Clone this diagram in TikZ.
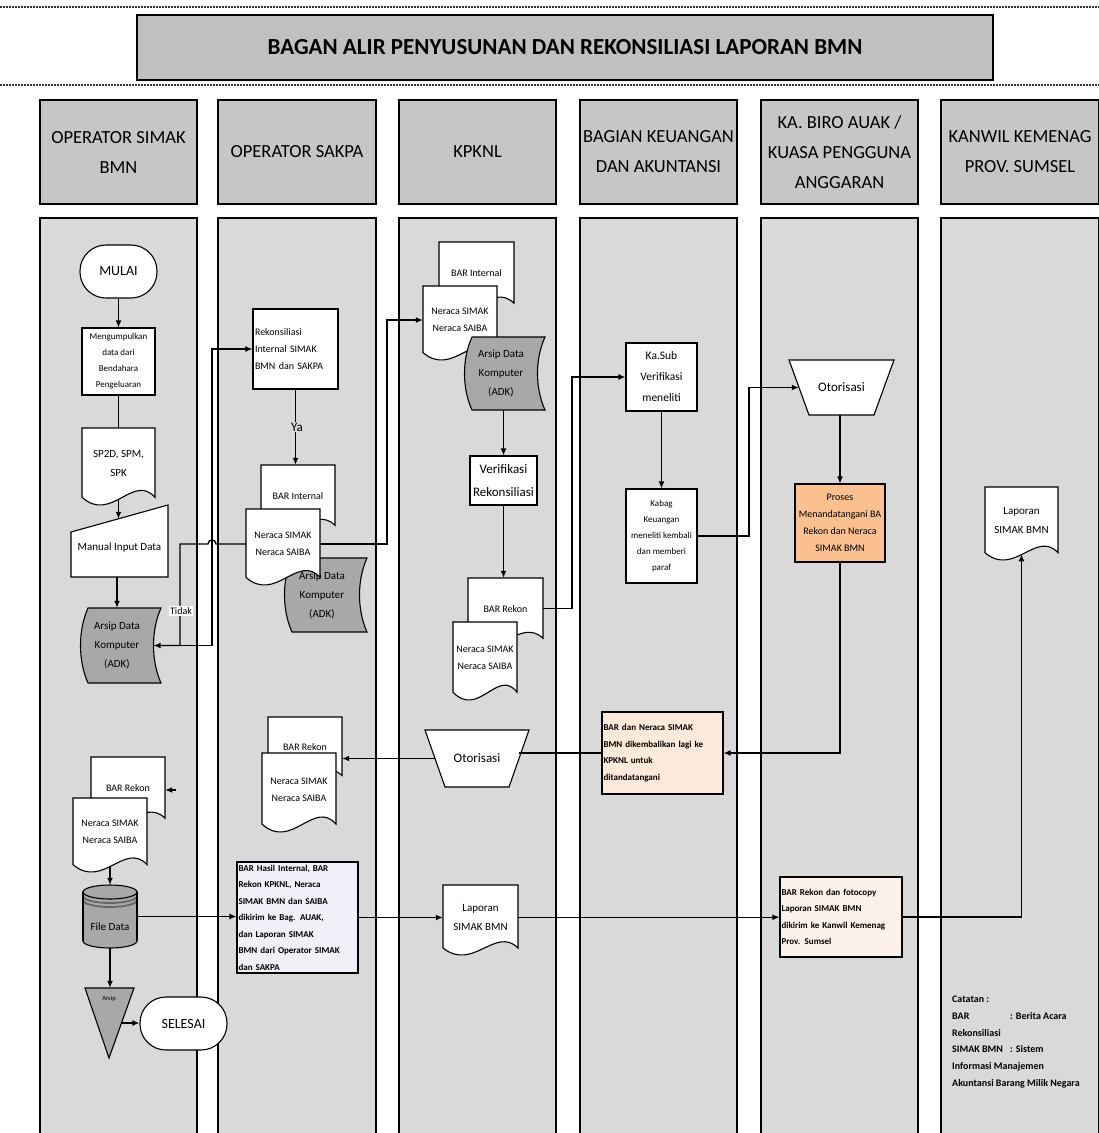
\documentclass[tikz,border=0pt]{standalone}
\usepackage{fontspec}
\setmainfont{Carlito}
\usetikzlibrary{arrows.meta,calc}
\definecolor{lanegray}{HTML}{D9D9D9}
\definecolor{hdrgray}{HTML}{C6C6C6}
\definecolor{titlegray}{HTML}{C0C0C0}
\definecolor{adkgray}{HTML}{A8A8A8}
\definecolor{orangeA}{HTML}{FAC090}
\definecolor{peachA}{HTML}{FDE9D9}
\definecolor{peachB}{HTML}{FDF2EA}
\definecolor{lavA}{HTML}{F0F0F8}
\tikzset{
 lanebox/.style={draw, line width=1.5pt, fill=lanegray},
 hdrbox/.style={draw, line width=1.5pt, fill=hdrgray, align=center, inner sep=0pt, font=\fontsize{18.5}{30}\selectfont},
 shp/.style={draw, line width=1.1pt},
 ghost/.style={inner sep=0pt, align=center},
 procbox/.style={draw, line width=1.1pt, fill=white, inner sep=0pt, align=center},
 conn/.style={line width=1.3pt, -{Latex[length=7pt,width=6pt]}},
 plainline/.style={line width=1.3pt},
 rule/.style={line width=2pt, dash pattern=on 1.5pt off 1.5pt, black!80},
 fS/.style={font=\fontsize{9}{16}\selectfont},
 fM/.style={font=\fontsize{10}{17}\selectfont},
 fL/.style={font=\fontsize{11}{19}\selectfont},
 fXL/.style={font=\fontsize{13}{23}\selectfont},
 fT/.style={font=\fontsize{14}{16}\selectfont},
 fBold/.style={font=\bfseries\fontsize{9}{16.5}\selectfont},
}
% box: name x1 y1 x2 y2 style text
\newcommand\BoxN[7]{\node[#6, minimum width={#4-#2}, minimum height={#5-#3}] (#1) at ({(#2+#4)/2},{(#3+#5)/2}) {#7};}
% document: name x1 y1 x2 y2 fill fontstyle text
\newcommand\DocN[8]{%
 \filldraw[shp, fill=#6] (#2,#3) -- (#4,#3) -- (#4,{#5-0.1*(#5-#3)}) .. controls ({#4-0.3*(#4-#2)},{#5-0.42*(#5-#3)}) and ({#2+0.4*(#4-#2)},{#5+0.24*(#5-#3)}) .. (#2,{#5-0.1*(#5-#3)}) -- cycle;
 \node[ghost, #7, minimum width={#4-#2}, minimum height={0.92*(#5-#3)}] (#1) at ({(#2+#4)/2},{#3+0.46*(#5-#3)}) {#8};}
% stored data: name x1 y1 x2 y2 fontstyle text
\newcommand\SdN[7]{%
 \filldraw[shp, fill=adkgray] (#2,#3) -- (#4,#3) .. controls ({#4-10},{#3+0.3*(#5-#3)}) and ({#4-10},{#5-0.3*(#5-#3)}) .. (#4,#5) -- (#2,#5) .. controls ({#2-10},{#5-0.3*(#5-#3)}) and ({#2-10},{#3+0.3*(#5-#3)}) .. (#2,#3) -- cycle;
 \node[ghost, #6, minimum width={#4-#2}, minimum height={#5-#3}] (#1) at ({(#2+#4)/2-7.5},{(#3+#5)/2}) {#7};}
% manual operation: name x1 y1 x2 y2 inset text
\newcommand\TrapN[7]{%
 \filldraw[shp, fill=white] (#2,#3) -- (#4,#3) -- ({#4-#6},#5) -- ({#2+#6},#5) -- cycle;
 \node[ghost, fXL, minimum width={#4-#2-#6}, minimum height={#5-#3}] (#1) at ({(#2+#4)/2},{(#3+#5)/2}) {#7};}

\begin{document}
\begin{tikzpicture}[x=1pt,y=-1pt]
\useasboundingbox (0,0) rectangle (1099,1133);
\fill[white] (0,0) rectangle (1099,1133);
\begin{scope}
\clip (0,0) rectangle (1099,1133);
% dotted rules
\coordinate (r1a) at (0,7);
\coordinate (r1b) at (1099,7);
\coordinate (r2a) at (0,85);
\coordinate (r2b) at (1099,85);
\draw[rule] (r1a) -- (r1b);
\draw[rule] (r2a) -- (r2b);
% title
\BoxN{title}{137}{15}{993}{80}{draw, line width=1.5pt, fill=titlegray, font=\bfseries\fontsize{23}{26}\selectfont}{BAGAN ALIR PENYUSUNAN DAN REKONSILIASI LAPORAN BMN}
% headers
\BoxN{h1}{40}{100}{197}{204}{hdrbox}{OPERATOR SIMAK\\BMN}
\BoxN{h2}{218}{100}{376}{204}{hdrbox}{OPERATOR SAKPA}
\BoxN{h3}{399}{100}{556}{204}{hdrbox}{KPKNL}
\BoxN{h4}{580}{100}{737}{204}{hdrbox}{BAGIAN KEUANGAN\\DAN AKUNTANSI}
\BoxN{h5}{761}{100}{918}{204}{hdrbox}{KA. BIRO AUAK /\\KUASA PENGGUNA\\ANGGARAN}
\BoxN{h6}{941}{100}{1099}{204}{hdrbox}{KANWIL KEMENAG\\PROV. SUMSEL}
% lanes
\BoxN{l1}{40}{218}{197}{1145}{lanebox}{}
\BoxN{l2}{218}{218}{376}{1145}{lanebox}{}
\BoxN{l3}{399}{218}{556}{1145}{lanebox}{}
\BoxN{l4}{580}{218}{737}{1145}{lanebox}{}
\BoxN{l5}{761}{218}{918}{1145}{lanebox}{}
\BoxN{l6}{941}{218}{1099}{1145}{lanebox}{}

% ---------- lane 1
\BoxN{mulai}{80}{245}{157}{298}{procbox, rounded corners=26pt, fT}{MULAI}
\BoxN{kumpul}{82}{328}{155}{395}{procbox, fS}{Mengumpulkan\\data dari\\Bendahara\\Pengeluaran}
\DocN{sp2d}{82}{428}{155}{505}{white}{fL}{SP2D, SPM,\\SPK}
\filldraw[shp, fill=white] (71,532) -- (168,505) -- (168,577) -- (71,577) -- cycle;
\BoxN{minput}{71}{519}{168}{577}{ghost, fL}{Manual Input Data}
\SdN{adk1}{88}{608}{161}{683}{fL}{Arsip Data\\Komputer\\(ADK)}
\DocN{barr1}{91}{757}{165}{825}{white}{fM}{BAR Rekon}
\DocN{ner1}{73}{798}{147}{872}{white}{fM}{Neraca SIMAK\\Neraca SAIBA}
% file data cylinder
\filldraw[shp, fill=adkgray] (83,892) -- (83,941) arc[start angle=180, end angle=0, x radius=27, y radius=7] -- (137,892) -- cycle;
\filldraw[shp, fill=adkgray] (110,892) ellipse[x radius=27, y radius=7];
\draw[line width=1.8pt, black!60] (83,896) arc[start angle=180, end angle=0, x radius=27, y radius=7];
\draw[line width=1.8pt, black!60] (83,900) arc[start angle=180, end angle=0, x radius=27, y radius=7];
\draw[shp] (83,892) -- (83,941) (137,892) -- (137,941);
\BoxN{fdata}{83}{885}{137}{948}{ghost}{}
\node[fL] (fdataT) at (110,927) {File Data};
% arsip triangle
\filldraw[shp, fill=adkgray] (85,988) -- (134,988) -- (109,1058) -- cycle;
\BoxN{arsip}{97}{988}{121}{1058}{ghost}{}
\node[font=\fontsize{6.5}{7}\selectfont] (arsipT) at (109,999) {Arsip};
\BoxN{selesai}{140}{997}{227}{1050}{procbox, rounded corners=26pt, fT}{SELESAI}

% ---------- lane 2
\BoxN{rekon}{253}{309}{338}{389}{procbox, fM, text width=81pt, align=left}{Rekonsiliasi\\Internal SIMAK\\BMN dan SAKPA}
\DocN{bari2}{261}{465}{335}{532}{white}{fM}{BAR Internal}
\SdN{adk2}{292}{558}{367}{632}{fL}{Arsip Data\\Komputer\\(ADK)}
\DocN{ner2}{246}{509}{320}{585}{white}{fM}{Neraca SIMAK\\Neraca SAIBA}
\DocN{barr2}{268}{717}{342}{782}{white}{fM}{BAR Rekon}
\DocN{ner2b}{262}{753}{336}{832}{white}{fM}{Neraca SIMAK\\Neraca SAIBA}
\BoxN{bhasil}{237}{862}{358}{973}{procbox, fill=lavA, fBold, text width=118pt, align=left}{BAR Hasil Internal, BAR\\Rekon KPKNL, Neraca\\SIMAK BMN dan SAIBA\\dikirim ke Bag. AUAK,\\dan Laporan SIMAK\\BMN dari Operator SIMAK\\dan SAKPA}

% ---------- lane 3
\DocN{bari3}{439}{242}{514}{310}{white}{fM}{BAR Internal}
\DocN{ner3}{423}{286}{497}{360}{white}{fM}{Neraca SIMAK\\Neraca SAIBA}
\SdN{adk3}{472}{337}{545}{410}{fL}{Arsip Data\\Komputer\\(ADK)}
\BoxN{verif}{470}{456}{537}{505}{procbox, fXL}{Verifikasi\\Rekonsiliasi}
\DocN{barr3}{468}{578}{543}{645}{white}{fM}{BAR Rekon}
\DocN{ner3b}{453}{622}{517}{700}{white}{fM}{Neraca SIMAK\\Neraca SAIBA}
\TrapN{oto3}{425}{730}{529}{787}{20}{Otorisasi}
\DocN{lap3}{443}{885}{518}{955}{white}{fL}{Laporan\\SIMAK BMN}

% ---------- lane 4
\BoxN{kasub}{626}{343}{697}{411}{procbox, font=\fontsize{11.5}{21}\selectfont}{Ka.Sub\\Verifikasi\\meneliti}
\BoxN{kabag}{626}{489}{697}{583}{procbox, fS}{Kabag\\Keuangan\\meneliti kembali\\dan memberi\\paraf}
\BoxN{barnk}{602}{712}{723}{794}{procbox, fill=peachA, fBold, text width=118pt, align=left}{BAR dan Neraca SIMAK\\BMN dikembalikan lagi ke\\KPKNL untuk\\ditandatangani}

% ---------- lane 5
\TrapN{oto5}{789}{360}{894}{415}{20}{Otorisasi}
\BoxN{proses}{795}{484}{885}{562}{procbox, fill=orangeA, fM}{Proses\\Menandatangani BA\\Rekon dan Neraca\\SIMAK BMN}
\BoxN{bfc}{780}{877}{902}{957}{procbox, fill=peachB, fBold, text width=119pt, align=left}{BAR Rekon dan fotocopy\\Laporan SIMAK BMN\\dikirim ke Kanwil Kemenag\\Prov. Sumsel}

% ---------- lane 6
\DocN{lap6}{985}{487}{1058}{560}{white}{fL}{Laporan\\SIMAK BMN}
\node[anchor=north west, inner sep=0pt, align=left, font=\bfseries\fontsize{10}{16.7}\selectfont] (cat) at (952,996) {Catatan :\\\makebox[58pt][l]{BAR}: Berita Acara\\Rekonsiliasi\\\makebox[58pt][l]{SIMAK BMN}: Sistem\\Informasi Manajemen\\Akuntansi Barang Milik Negara};

% ---------- waypoints
\coordinate (xA) at (216,0);
\coordinate (xB) at (180,0);
\coordinate (xC) at (212,0);
\coordinate (xD) at (387,0);
\coordinate (xE) at (572,0);
\coordinate (xF) at (749,0);
\coordinate (stub) at (176,790);

% ---------- connectors
\draw[conn] (mulai.south) -- (mulai.south |- kumpul.north);
\draw[plainline] (kumpul.south) -- (kumpul.south |- sp2d.north);
\draw[conn] (sp2d.south) -- (sp2d.south |- minput.north);
\draw[conn] (adk1.north |- minput.south) -- (adk1.north);
\draw[conn] (ner2.west) -- (ner2.west -| xA) arc[start angle=0, end angle=-180, radius=4] -- (ner2.west -| xB) |- (adk1.east);
\draw[conn] (adk1.east) -- (adk1.east -| xC) |- (rekon.west);
\draw[conn] (ner2.east) -- (ner2.east -| xD) |- (ner3.west);
\draw[conn] (rekon.south) -- (rekon.south |- bari2.north);
\draw[conn] (verif.north |- adk3.south) -- (verif.north);
\draw[conn] (verif.south) -- (verif.south |- barr3.north);
\draw[conn] (barr3.east) -- (barr3.east -| xE) |- (kasub.west);
\draw[conn] (kasub.south) -- (kasub.south |- kabag.north);
\draw[conn] (kabag.east) -- (kabag.east -| xF) |- (oto5.west);
\draw[conn] (proses.north |- oto5.south) -- (proses.north);
\draw[conn] (proses.south) |- (barnk.east);
\draw[plainline] (barnk.west) -- (barnk.west -| oto3.east);
\draw[conn] (oto3.west) -- (oto3.west -| barr2.east);
\draw[conn] (stub) -- (stub -| barr1.east);
\draw[conn] (ner1.south) -- (ner1.south |- fdata.north);
\draw[conn] (fdata.east) -- (fdata.east -| bhasil.west);
\draw[conn] (fdata.south) -- (fdata.south |- arsip.north);
\draw[conn] (arsip.east) -- (arsip.east -| selesai.west);
\draw[conn] (bhasil.east) -- (bhasil.east -| lap3.west);
\draw[conn] (lap3.east) -- (lap3.east -| bfc.west);
\draw[conn] (bfc.east) -| (lap6.south);

% labels on connectors
\node[fill=white, inner sep=1.5pt, fM] (tidak) at (181,611) {Tidak};
\node[fill=lanegray, inner sep=1pt, fXL] (ya) at (297,427) {Ya};
\end{scope}
\end{tikzpicture}
\end{document}
